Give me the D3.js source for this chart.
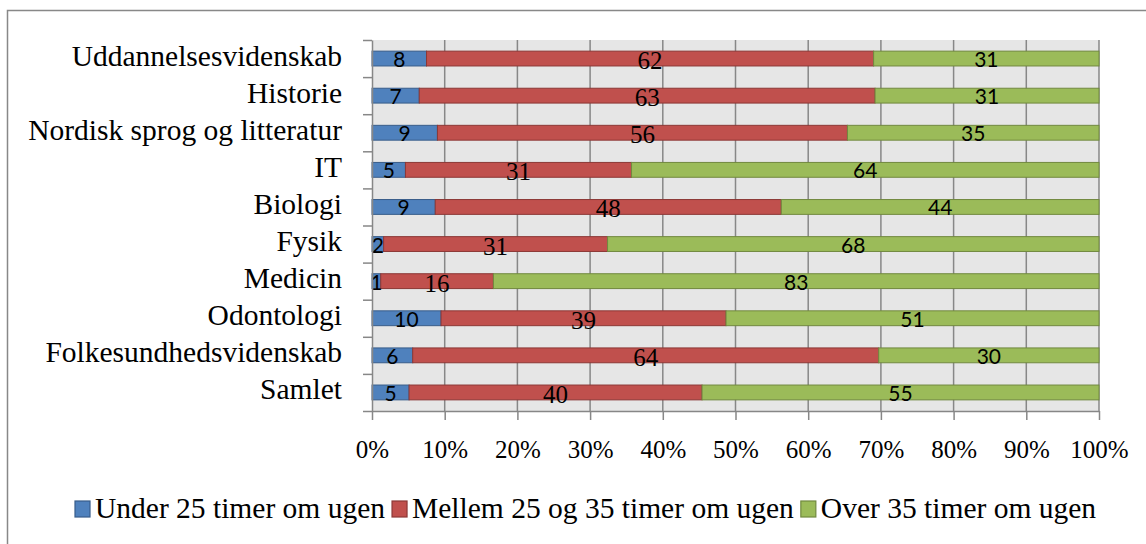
<!DOCTYPE html>
<html>
<head>
<meta charset="utf-8">
<script src="https://cdn.jsdelivr.net/npm/d3@7"></script>
<style>
  body { margin: 0; background: #fff; }
</style>
</head>
<body>
<div id="chart"></div>
<script>
// categories, top to bottom
const fields = ["Uddannelsesvidenskab", "Historie", "Nordisk sprog og litteratur", "IT", "Biologi",
  "Fysik", "Medicin", "Odontologi", "Folkesundhedsvidenskab", "Samlet"];
// share (percent) of students in each group
const under25 = [7.5, 6.5, 9.0, 4.6, 8.7, 1.6, 1.2, 9.5, 5.6, 5.1];
const from25to35 = [61.5, 62.7, 56.4, 31.1, 47.6, 30.8, 15.5, 39.2, 64.1, 40.3];
const over35 = [31.0, 30.8, 34.6, 64.3, 43.7, 67.6, 83.3, 51.3, 30.3, 54.6];
// legend names
const series_names = ["Under 25 timer om ugen", "Mellem 25 og 35 timer om ugen", "Over 35 timer om ugen"];
// x axis ticks
const x_ticks = [0, 0.1, 0.2, 0.3, 0.4, 0.5, 0.6, 0.7, 0.8, 0.9, 1];

const width = 1146;
const height = 544;
const plot = { left: 372, right: 1099, top: 40, bottom: 411 };

const fills = ["#4f81bd", "#c0504d", "#9bbb59"];
const strokes = ["#385d8a", "#8c3836", "#71893f"];
const sans = "Lato, 'Liberation Sans', sans-serif";
const serif = "'Liberation Serif', 'Times New Roman', serif";
const label_fonts = [sans, serif, sans];

// table for d3.stack
const keys = ["a", "b", "c"];
const table = fields.map((f, i) => ({ field: f, a: under25[i], b: from25to35[i], c: over35[i] }));
const stacked = d3.stack().keys(keys).offset(d3.stackOffsetExpand)(table);

const svg = d3.select("#chart")
  .append("svg")
  .attr("width", width)
  .attr("height", height);

// outer chart border
svg.append("rect")
  .attr("x", 7.5).attr("y", 10.5)
  .attr("width", 1160).attr("height", 560)
  .attr("fill", "#fff")
  .attr("stroke", "#888")
  .attr("stroke-width", 1.5);

// -------------------------< scales >--------------------------
const x = d3.scaleLinear()
  .domain([0, 1])
  .range([plot.left, plot.right]);

const y = d3.scaleBand()
  .domain(fields)
  .range([plot.top, plot.bottom])
  .paddingInner(0.6)
  .paddingOuter(0.3);

// row boundaries for the left tick marks
const rows = d3.scaleLinear()
  .domain([0, fields.length])
  .range([plot.top, plot.bottom]);

// plot area background
svg.append("rect")
  .attr("x", plot.left).attr("y", plot.top)
  .attr("width", plot.right - plot.left)
  .attr("height", plot.bottom - plot.top)
  .attr("fill", "#e6e6e6");

// vertical grid lines
svg.append("g")
  .selectAll("line")
  .data(x_ticks.slice(1))
  .enter()
  .append("line")
  .attr("x1", d => x(d)).attr("x2", d => x(d))
  .attr("y1", plot.top).attr("y2", plot.bottom)
  .attr("stroke", "#878787")
  .attr("stroke-width", 1.5);

// -------------------------< bars >--------------------------
const groups = svg.append("g")
  .selectAll("g")
  .data(stacked)
  .enter()
  .append("g")
  .attr("fill", (d, i) => fills[i])
  .attr("stroke", (d, i) => strokes[i]);

groups.selectAll("rect")
  .data(d => d)
  .enter()
  .append("rect")
  .attr("x", d => x(d[0]))
  .attr("y", d => y(d.data.field))
  .attr("width", d => x(d[1]) - x(d[0]))
  .attr("height", y.bandwidth())
  .attr("stroke-width", 1);

// value labels in the middle of each segment
const fmt = d3.format(".0f");
stacked.forEach((s, si) => {
  svg.append("g")
    .selectAll("text")
    .data(s)
    .enter()
    .append("text")
    .attr("x", d => x((d[0] + d[1]) / 2))
    .attr("y", d => y(d.data.field) + y.bandwidth() / 2 + (si === 1 ? 10.5 : 8.5))
    .attr("text-anchor", "middle")
    .style("font-family", label_fonts[si])
    .style("font-size", si === 1 ? "25px" : "21px")
    .attr("fill", "#000")
    .text(d => fmt(d.data[s.key]));
});

// -------------------------< axes >--------------------------
// left axis line and row ticks
svg.append("g")
  .attr("transform", `translate(${plot.left},0)`)
  .call(d3.axisLeft(rows).tickValues(d3.range(fields.length + 1)).tickFormat("").tickSize(9).tickSizeOuter(0))
  .call(g => g.selectAll("line, path").attr("stroke", "#878787").attr("stroke-width", 1.5));

// category labels
svg.append("g")
  .attr("transform", `translate(${plot.left},0)`)
  .call(d3.axisLeft(y).tickSize(0).tickPadding(30))
  .call(g => g.select(".domain").remove())
  .call(g => g.selectAll("text")
    .attr("dy", null)
    .attr("y", 7)
    .style("font-family", serif)
    .style("font-size", "29.5px")
    .attr("fill", "#000"));

// bottom axis
svg.append("g")
  .attr("transform", `translate(0,${plot.bottom})`)
  .call(d3.axisBottom(x).tickValues(x_ticks).tickFormat(d3.format(".0%")).tickSize(9).tickSizeOuter(0).tickPadding(20))
  .call(g => g.selectAll("line, path").attr("stroke", "#878787").attr("stroke-width", 1.5))
  .call(g => g.selectAll("text")
    .style("font-family", serif)
    .style("font-size", "25px")
    .attr("fill", "#000"));

// -------------------------< legend >--------------------------
const legend = svg.append("g").attr("transform", "translate(75,518)");
let lx = 0;
series_names.forEach((name, i) => {
  legend.append("rect")
    .attr("x", lx).attr("y", -17)
    .attr("width", 15).attr("height", 16)
    .attr("fill", fills[i])
    .attr("stroke", strokes[i])
    .attr("stroke-width", 1.2);
  const t = legend.append("text")
    .attr("x", lx + 20)
    .attr("y", 0)
    .style("font-family", serif)
    .style("font-size", "29.5px")
    .attr("fill", "#000")
    .text(name);
  lx += 20 + t.node().getComputedTextLength() + 7;
});
</script>
</body>
</html>
